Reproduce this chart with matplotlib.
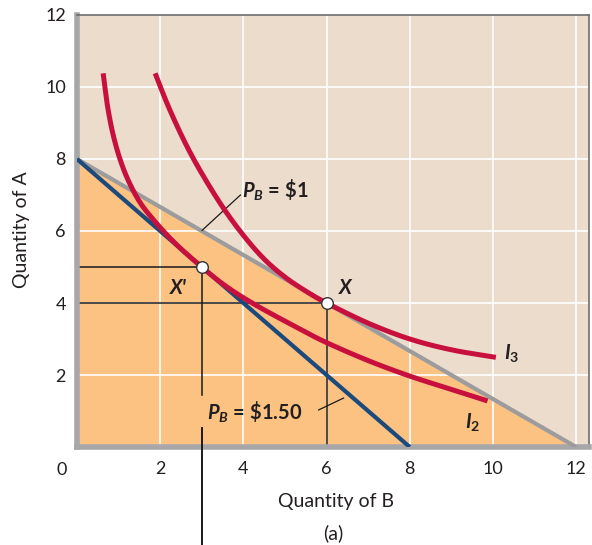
import numpy as np
import matplotlib.pyplot as plt

plt.rcParams['font.family'] = ['Lato', 'DejaVu Sans']
plt.rcParams['mathtext.fontset'] = 'custom'
plt.rcParams['mathtext.rm'] = 'Lato:bold'
plt.rcParams['mathtext.it'] = 'Lato:bold:italic'
plt.rcParams['mathtext.bf'] = 'Lato:bold'

# budget lines (intercepts on A and B axes)
income_a = 8
b_max_low_price = 12   # P_B = $1
b_max_high_price = 8   # P_B = $1.50

# indifference curves
i2_b = [0.63, 0.75, 0.92, 1.16, 1.48, 1.84, 2.36, 3.0, 3.6, 4.33, 5.37, 6.0, 7.0, 8.0, 9.0, 9.87]
i2_a = [10.38, 9.36, 8.44, 7.6, 6.86, 6.31, 5.66, 5.0, 4.45, 3.92, 3.27, 2.9, 2.40, 1.97, 1.60, 1.28]
i3_b = [1.88, 2.2, 2.6, 3.0, 3.5, 4.0, 4.5, 5.0, 5.5, 6.0, 7.0, 8.0, 9.0, 10.07]
i3_a = [10.38, 9.45, 8.45, 7.6, 6.67, 5.88, 5.22, 4.72, 4.33, 4.0, 3.44, 3.0, 2.70, 2.49]

# optimum points
x_prime = (3, 5)
x_point = (6, 4)

ticks = [2, 4, 6, 8, 10, 12]

beige = '#ecdccb'
orange = '#fbc282'
gray = '#9c9c9e'
blue = '#1d4a7c'
red = '#c8103e'


def smooth(xs, ys, n=16):
    # Catmull-Rom path through the read points, only for drawing
    p = np.column_stack([xs, ys]).astype(float)
    p = np.vstack([2 * p[0] - p[1], p, 2 * p[-1] - p[-2]])
    t = np.linspace(0, 1, n, endpoint=False)[:, None]
    out = []
    for i in range(1, len(p) - 2):
        p0, p1, p2, p3 = p[i - 1], p[i], p[i + 1], p[i + 2]
        out.append(0.5 * (2 * p1 + (-p0 + p2) * t + (2 * p0 - 5 * p1 + 4 * p2 - p3) * t ** 2
                          + (-p0 + 3 * p1 - 3 * p2 + p3) * t ** 3))
    out.append(p[-2][None, :])
    out = np.vstack(out)
    return out[:, 0], out[:, 1]


fig = plt.figure(figsize=(5.92, 5.45), dpi=100)
ax = fig.add_axes([0.130, 0.1798, 0.865, 0.7927])
ax.set_xlim(0, 12.31)
ax.set_ylim(0, 12)
ax.set_facecolor(beige)

# orange area under the P_B = $1 budget line
ax.fill([0, 0, b_max_low_price], [0, income_a, 0], color=orange, zorder=0.5, lw=0)

for t in ticks:
    ax.axvline(t, color='white', lw=1.2, zorder=1)
    if t < 12:
        ax.axhline(t, color='white', lw=1.2, zorder=1)

ax.plot([0, b_max_low_price], [income_a, 0], color=gray, lw=3, zorder=3, solid_capstyle='butt')
ax.plot([0, b_max_high_price], [income_a, 0], color=blue, lw=3, zorder=3, solid_capstyle='butt')
ax.plot(*smooth(i2_b, i2_a), color=red, lw=3.6, zorder=4, solid_capstyle='butt')
ax.plot(*smooth(i3_b, i3_a), color=red, lw=3.6, zorder=4, solid_capstyle='butt')

# guide lines to the axes
k = dict(color='#1a1a1a', lw=1.1, zorder=2)
ax.plot([0, x_prime[0]], [x_prime[1], x_prime[1]], **k)
ax.plot([x_prime[0], x_prime[0]], [x_prime[1], 1.45], **k)
ax.plot([x_prime[0], x_prime[0]], [0.53, -2.75], clip_on=False, color='#1a1a1a', lw=1.4, zorder=6)
ax.plot([0, x_point[0]], [x_point[1], x_point[1]], **k)
ax.plot([x_point[0], x_point[0]], [x_point[1], 0], **k)

ax.scatter([x_prime[0], x_point[0]], [x_prime[1], x_point[1]], s=70, facecolor='white',
           edgecolor='#333333', linewidth=1.0, zorder=5)

# leader lines
ax.plot([3.01, 3.93], [6.02, 7.0], color='#1a1a1a', lw=0.9, zorder=3)
ax.plot([5.81, 6.41], [1.03, 1.36], color='#1a1a1a', lw=0.9, zorder=3)

tk = dict(fontsize=14.5, color='#231f20', zorder=6)
ax.text(3.97, 7.12, r'$P_B$ = \$1', fontweight='bold', va='center', ha='left', **tk)
ax.text(3.12, 0.95, r'$P_B$ = \$1.50', fontweight='bold', va='center', ha='left', **tk)
ax.text(2.43, 4.42, "X'", fontweight='bold', style='italic', va='center', ha='center', **tk)
ax.text(6.46, 4.42, 'X', fontweight='bold', style='italic', va='center', ha='center', **tk)
ax.text(10.45, 2.6, r'$I_3$', va='center', ha='center', **tk)
ax.text(9.5, 0.66, r'$I_2$', va='center', ha='center', **tk)

ax.set_xticks(ticks)
ax.set_yticks(ticks)
ax.tick_params(length=0, labelsize=13, labelcolor='#231f20')
ax.tick_params(axis='x', pad=10)
ax.tick_params(axis='y', pad=8)
ax.text(-0.36, -0.43, '0', fontsize=13, color='#231f20', ha='center', va='top', clip_on=False)

ax.spines['left'].set_color('#a7a7a9')
ax.spines['left'].set_linewidth(4)
ax.spines['bottom'].set_color('#a7a7a9')
ax.spines['bottom'].set_linewidth(4)
ax.spines['top'].set_color('#6d6d6d')
ax.spines['top'].set_linewidth(1.2)
ax.spines['right'].set_color('#6d6d6d')
ax.spines['right'].set_linewidth(1.2)

fig.text(22 / 592, 1 - 230 / 545, 'Quantity of A', rotation=90, ha='center', va='center',
         fontsize=14, color='#231f20')
fig.text(336 / 592, 1 - 502 / 545, 'Quantity of B', ha='center', va='center',
         fontsize=14, color='#231f20')
fig.text(333 / 592, 1 - 533 / 545, '(a)', ha='center', va='center',
         fontsize=14, color='#231f20')

fig.savefig('out.png', dpi=100)
